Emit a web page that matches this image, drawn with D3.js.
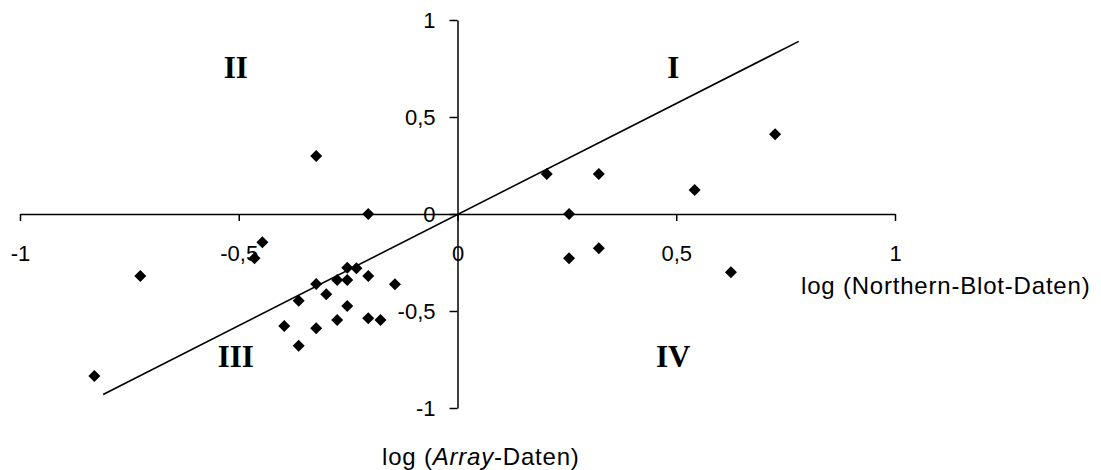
<!DOCTYPE html>
<html>
<head>
<meta charset="utf-8">
<script src="https://cdn.jsdelivr.net/npm/d3@7"></script>
<style>
  html, body { margin: 0; padding: 0; background: #fff; }
  svg { display: block; }
  .tick text { font-family: "Liberation Sans", Arial, sans-serif; font-size: 22px; fill: #000; }
  .axis path, .axis line { stroke: #000; stroke-width: 1.5px; }
  .title { font-family: "Liberation Sans", Arial, sans-serif; font-size: 24px; letter-spacing: 0.8px; fill: #000; }
  .quad { font-family: "Liberation Serif", "Times New Roman", serif; font-weight: bold; font-size: 31px; fill: #000; }
</style>
</head>
<body>
<svg id="chart" width="1101" height="470"></svg>
<script>
// log ratios from Northern blots (x) and microarrays (y), one entry per gene
const northernLog = [
  -0.323, -0.204, 0.204, 0.323, 0.255, 0.542, 0.726, 0.255, 0.323, 0.625,
  -0.725, -0.446, -0.464, -0.830, -0.252, -0.231, -0.323, -0.275, -0.252, -0.204,
  -0.143, -0.300, -0.363, -0.252, -0.396, -0.323, -0.275, -0.204, -0.176, -0.363
];
const arrayLog = [
  0.299, 0.000, 0.206, 0.206, 0.000, 0.124, 0.411, -0.228, -0.177, -0.300,
  -0.320, -0.146, -0.228, -0.835, -0.277, -0.280, -0.361, -0.340, -0.340, -0.320,
  -0.362, -0.414, -0.447, -0.474, -0.577, -0.589, -0.546, -0.538, -0.546, -0.679
];

// regression line end points
const trendX = [-0.81, 0.78];
const trendY = [-0.93, 0.89];

// axis ticks
const xTicks = [-1, -0.5, 0, 0.5, 1];
const yTicks = [-1, -0.5, 0, 0.5, 1];

// quadrant labels
const quadNames = ["I", "II", "III", "IV"];
const quadSignX = [1, -1, -1, 1];
const quadSignY = [1, 1, -1, -1];

const svg = d3.select("#chart");
const x = d3.scaleLinear().domain([-1, 1]).range([20, 895]);
const y = d3.scaleLinear().domain([-1, 1]).range([408, 20]);
const fmt = d => String(d).replace(".", ",");

// x axis through y = 0
svg.append("g")
  .attr("class", "axis")
  .attr("transform", `translate(0,${y(0)})`)
  .call(d3.axisBottom(x).tickValues(xTicks).tickFormat(fmt)
    .tickSize(7).tickSizeOuter(0).tickPadding(24));

// y axis through x = 0
svg.append("g")
  .attr("class", "axis")
  .attr("transform", `translate(${x(0)},0)`)
  .call(d3.axisLeft(y).tickValues(yTicks).tickFormat(fmt)
    .tickSize(8).tickSizeOuter(0).tickPadding(14));

// regression line
svg.append("path")
  .datum(d3.zip(trendX, trendY))
  .attr("fill", "none")
  .attr("stroke", "#000")
  .attr("stroke-width", 1.6)
  .attr("d", d3.line().x(d => x(d[0])).y(d => y(d[1])));

// data points as diamonds
const diamond = d3.symbol().type(d3.symbolSquare).size(72);
svg.append("g")
  .selectAll("path")
  .data(d3.zip(northernLog, arrayLog))
  .join("path")
  .attr("d", diamond)
  .attr("fill", "#000")
  .attr("transform", d => `translate(${x(d[0])},${y(d[1])}) rotate(45)`);

// quadrant numerals
svg.append("g")
  .selectAll("text")
  .data(quadNames.map((n, i) => ({ n, sx: quadSignX[i], sy: quadSignY[i] })))
  .join("text")
  .attr("class", "quad")
  .attr("text-anchor", "middle")
  .attr("x", d => x(d.sx * 0.5) - 3)
  .attr("y", d => d.sy > 0 ? y(0.7) : y(-0.787))
  .text(d => d.n);

// axis titles
svg.append("text")
  .attr("class", "title")
  .attr("x", 801)
  .attr("y", 294)
  .text("log (Northern-Blot-Daten)");

const t2 = svg.append("text")
  .attr("class", "title")
  .attr("x", 382)
  .attr("y", 465);
t2.append("tspan").text("log (");
t2.append("tspan").attr("font-style", "italic").text("Array");
t2.append("tspan").text("-Daten)");
</script>
</body>
</html>
